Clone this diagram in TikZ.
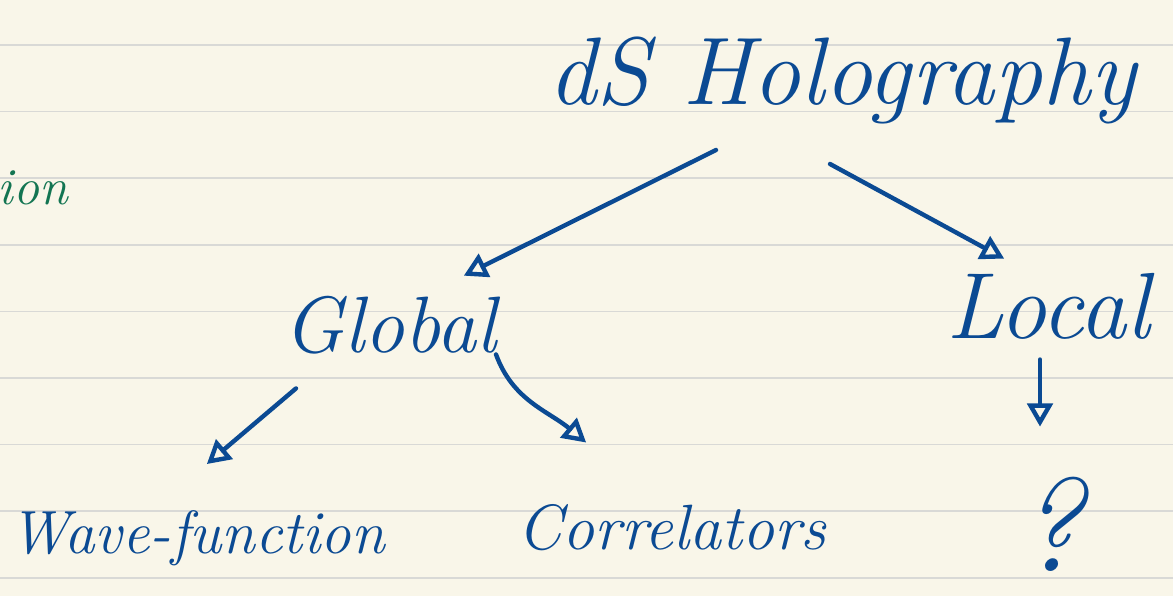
\documentclass[tikz,border=0pt]{standalone}
\usepackage{tikz}
\usetikzlibrary{arrows}
\definecolor{paper}{HTML}{F9F6E9}
\definecolor{rule}{HTML}{D9D9D6}
\definecolor{ink}{HTML}{0B4A93}
\definecolor{greenink}{HTML}{137552}
\tikzstyle{word} = [text=ink, font=\itshape, inner sep=0pt]
\tikzstyle{pen} = [draw=ink, line width=2.2pt, line cap=round, -open triangle 60]
\newcommand{\hand}[2]{\fontsize{#1}{#1}\selectfont #2}

\begin{document}
\begin{tikzpicture}[x=0.5pt, y=-0.5pt]
\fill[paper] (0,0) rectangle (1173,596);
\useasboundingbox (0,0) rectangle (1173,596);
\clip (0,0) rectangle (1173,596);
\foreach \k in {0,...,8}
    \draw[rule, line width=0.8pt] (0,45+66.6*\k) -- (1173,45+66.6*\k);

\node [word] (holo) at (842,80) {\hand{48pt}{dS Holography}};
\node [word] (global) at (390,325) {\hand{40pt}{Global}};
\node [word] (local) at (1048,306) {\hand{47pt}{Local}};
\node [word] (wave) at (197,538) {\hand{30.5pt}{Wave-function}};
\node [word] (corr) at (672,528) {\hand{32pt}{Correlators}};
\node [word] (quest) at (1050,524) {\hand{66pt}{?}};
\node [word, text=greenink, anchor=east] (ion) at (68,188) {\hand{26pt}{ion}};

\draw [pen] ([xshift=-63pt,yshift=-13pt]holo.south) -- ([xshift=37pt,yshift=10pt]global.north);
\draw [pen] ([xshift=-6pt,yshift=-20pt]holo.south) -- ([xshift=-22pt,yshift=7pt]local.north);
\draw [pen] ([xshift=-47pt,yshift=-17pt]global.south) -- ([xshift=5pt,yshift=23pt]wave.north);
\draw [pen] ([xshift=53pt]global.south) to[out=-70,in=140] ([xshift=-43pt,yshift=31pt]corr.north);
\draw [pen] ([xshift=-4pt,yshift=-10pt]local.south) -- ([xshift=-5pt,yshift=25pt]quest.north);
\end{tikzpicture}
\end{document}
